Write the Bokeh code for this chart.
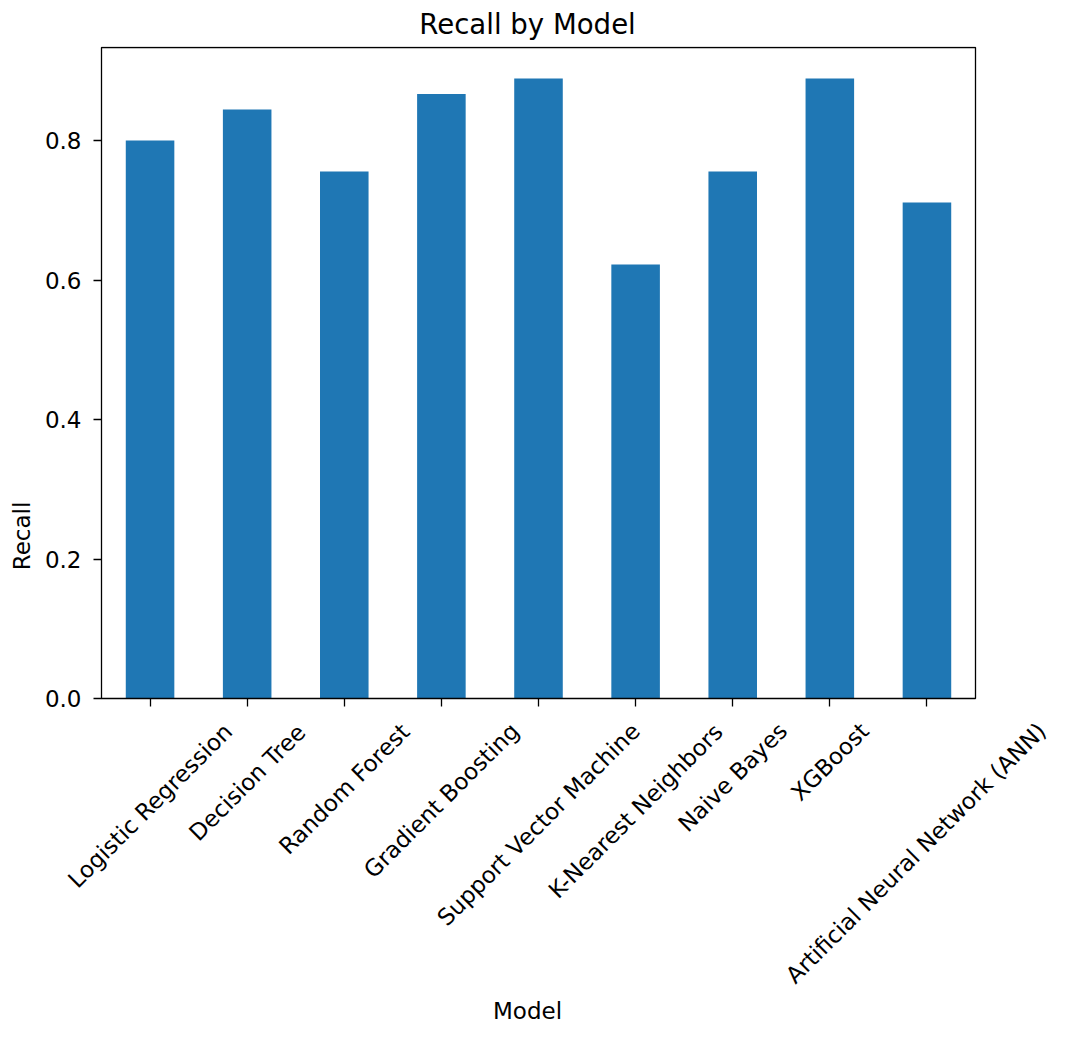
import math
from bokeh.plotting import figure
from bokeh.models import ColumnDataSource, FixedTicker, Range1d, PrintfTickFormatter
from bokeh.core.properties import value
from bokeh.embed import file_html
from bokeh.resources import INLINE

# ---- data ----
models = [
    "Logistic Regression",
    "Decision Tree",
    "Random Forest",
    "Gradient Boosting",
    "Support Vector Machine",
    "K-Nearest Neighbors",
    "Naive Bayes",
    "XGBoost",
    "Artificial Neural Network (ANN)",
]
recall = [0.8000, 0.8444, 0.7556, 0.8667, 0.8889, 0.6222, 0.7556, 0.8889, 0.7111]
y_ticks = [0.0, 0.2, 0.4, 0.6, 0.8]

FONT = "DejaVu Sans"
TICK_FS = 23  # px

# ---- layout (px, canvas coordinates) ----
W_TOTAL, H_TOTAL = 1054, 1025
TITLE_H = 46                        # space above the frame for the title
BOX_L, BOX_R, BOX_T, BOX_B = 101, 975, 47, 698   # the axes box
LABEL_GAP = 19                      # gap between axis and top of rotated tick labels

n = len(models)
ymax = max(recall) * 1.05
u = (BOX_R - BOX_L) / n             # px per category
v = (BOX_B - BOX_T) / ymax          # px per recall unit

# approximate DejaVu Sans advance widths (em units) to centre rotated labels like matplotlib
CW = {' ': .318, '(': .390, ')': .390, '-': .361, 'A': .684, 'B': .686, 'C': .698, 'D': .770,
      'G': .775, 'K': .656, 'L': .557, 'M': .863, 'N': .748, 'R': .695, 'S': .635, 'T': .611,
      'V': .684, 'X': .685, 'a': .613, 'b': .635, 'c': .550, 'd': .635, 'e': .615, 'f': .352,
      'g': .635, 'h': .634, 'i': .278, 'k': .579, 'l': .278, 'm': .974, 'n': .634, 'o': .612,
      'r': .411, 's': .521, 't': .392, 'u': .634, 'v': .592, 'w': .818, 'y': .592}


def text_w(s):
    return sum(CW.get(c, 0.6) for c in s) * TICK_FS


xpos = list(range(n))
src = ColumnDataSource(dict(x=xpos, model=models, recall=recall))

x_start = -0.5 - BOX_L / u
x_end = x_start + W_TOTAL / u
y_top = ymax + (BOX_T - TITLE_H) / v
y_bottom = -(H_TOTAL - BOX_B) / v

p = figure(
    x_range=Range1d(x_start, x_end),
    y_range=Range1d(y_bottom, y_top),
    width=W_TOTAL, height=H_TOTAL,
    output_backend="svg", toolbar_location=None,
    title="Recall by Model",
    min_border_left=0, min_border_right=0,
    min_border_top=TITLE_H, min_border_bottom=0,
)
p.outline_line_color = None
p.grid.visible = False
p.background_fill_color = "white"
p.border_fill_color = "white"

# bars
p.vbar(x="x", top="recall", width=0.5, source=src, fill_color="#1f77b4", line_color=None)

# axes box
p.quad(left=[-0.5], right=[n - 0.5], bottom=[0], top=[ymax],
       fill_color=None, line_color="black", line_width=1.3)

# title
p.title.text_font = FONT
p.title.text_font_size = "27.6px"
p.title.text_font_style = "normal"
p.title.text_color = "black"
p.title.align = "center"
p.title.standoff = 11

# y axis, pinned to the left edge of the box
yax = p.yaxis[0]
yax.fixed_location = -0.5
yax.ticker = FixedTicker(ticks=y_ticks)
yax.formatter = PrintfTickFormatter(format="%.1f")
yax.axis_label = "Recall"
yax.major_label_standoff = 12
yax.axis_label_standoff = 7

# x axis, pinned to y = 0
xax = p.xaxis[0]
xax.fixed_location = 0
xax.ticker = FixedTicker(ticks=xpos)
xax.major_label_overrides = {i: "" for i in xpos}
xax.major_label_standoff = 0
xax.axis_label = "Model"
xax.axis_label_standoff = 291

for ax in (xax, yax):
    ax.axis_line_color = None          # the box draws the spines
    ax.major_tick_line_color = "black"
    ax.major_tick_line_width = 1.3
    ax.major_tick_out = 8
    ax.major_tick_in = 0
    ax.minor_tick_line_color = None
    ax.major_label_text_font = FONT
    ax.major_label_text_color = "black"
    ax.major_label_text_font_size = f"{TICK_FS}px"
    ax.axis_label_text_font = FONT
    ax.axis_label_text_font_size = f"{TICK_FS}px"
    ax.axis_label_text_font_style = "normal"
    ax.axis_label_text_color = "black"

# rotated category labels: matplotlib rotation=45, ha="center" (bbox centred under the tick),
# kept inside the canvas at the right edge
label_x, label_y = [], []
for i, m in zip(xpos, models):
    half = (text_w(m) + 1.16 * TICK_FS) / (2 * math.sqrt(2))
    cx_px = BOX_L + (i + 0.5) * u
    cx_px = min(cx_px, W_TOTAL - half - 3)
    label_x.append(x_start + cx_px / u)
    label_y.append(-(LABEL_GAP + half) / v)
lab_src = ColumnDataSource(dict(x=label_x, y=label_y, text=models))
p.text(x="x", y="y", text="text", source=lab_src, angle=math.pi / 4,
       text_align="center", text_baseline="middle",
       text_font=value(FONT), text_font_size=value(f"{TICK_FS}px"), text_color="black")

open("out.html", "w").write(file_html(p, INLINE))
